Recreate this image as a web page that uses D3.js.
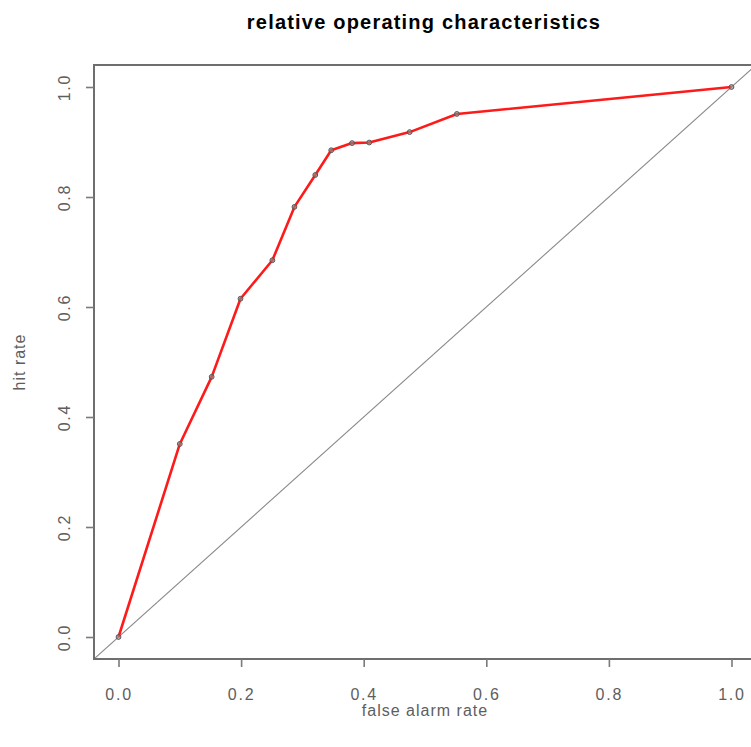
<!DOCTYPE html>
<html>
<head>
<meta charset="utf-8">
<script src="https://cdn.jsdelivr.net/npm/d3@7"></script>
<style>
  html, body { margin: 0; padding: 0; background: #fff; }
  svg { display: block; }
  text { font-family: "Liberation Sans", Arial, Helvetica, sans-serif; }
</style>
</head>
<body>
<svg id="chart" width="751" height="747"></svg>
<script>
// ROC curve: false alarm rate vs hit rate
const falseAlarmRate = [0.0, 0.100, 0.152, 0.199, 0.251, 0.287, 0.321, 0.347, 0.381, 0.409, 0.475, 0.552, 1.0];
const hitRate        = [0.0, 0.351, 0.473, 0.615, 0.685, 0.782, 0.840, 0.885, 0.898, 0.899, 0.918, 0.951, 1.0];
const xTicks = [0, 0.2, 0.4, 0.6, 0.8, 1.0];
const yTicks = [0, 0.2, 0.4, 0.6, 0.8, 1.0];

const svg = d3.select("#chart");
const plotLeft = 94, plotRight = 756, plotTop = 65, plotBottom = 659;

const x = d3.scaleLinear().domain([-0.04, 1.04]).range([plotLeft, plotRight]);
const y = d3.scaleLinear().domain([-0.04, 1.04]).range([plotBottom, plotTop]);

const fmt = d3.format(".1f");
const plot = svg.append("g");
const labelGrey = "#5e5e5e";

// clip for the plotting region
svg.append("clipPath").attr("id", "clip")
  .append("rect").attr("x", plotLeft).attr("y", plotTop)
  .attr("width", plotRight - plotLeft).attr("height", plotBottom - plotTop);

// reference diagonal (no-skill line)
plot.append("line")
  .attr("clip-path", "url(#clip)")
  .attr("x1", x(-0.04)).attr("y1", y(-0.04))
  .attr("x2", x(1.04)).attr("y2", y(1.04))
  .attr("stroke", "#8a8a8a").attr("stroke-width", 1.1);

// ROC line
const pts = falseAlarmRate.map((d, i) => [d, hitRate[i]]);
plot.append("path")
  .datum(pts)
  .attr("fill", "none")
  .attr("stroke", "#ff1a1a")
  .attr("stroke-width", 2.6)
  .attr("stroke-linejoin", "round")
  .attr("d", d3.line().x(d => x(d[0])).y(d => y(d[1])));

// points
plot.selectAll("circle.pt").data(pts).enter().append("circle")
  .attr("class", "pt")
  .attr("cx", d => x(d[0])).attr("cy", d => y(d[1]))
  .attr("r", 2.4)
  .attr("fill", "#8c8c8c")
  .attr("fill-opacity", 0.6)
  .attr("stroke", "#555")
  .attr("stroke-width", 1);

// box
svg.append("rect")
  .attr("x", plotLeft).attr("y", plotTop)
  .attr("width", plotRight - plotLeft).attr("height", plotBottom - plotTop)
  .attr("fill", "none").attr("stroke", "#6e6e6e").attr("stroke-width", 2);

// x axis
const xAxis = d3.axisBottom(x).tickValues(xTicks).tickFormat(fmt).tickSize(8).tickPadding(22);
const gx = svg.append("g").attr("transform", `translate(0,${plotBottom})`).call(xAxis);
gx.select(".domain").remove();
gx.selectAll(".tick line").attr("stroke", "#7a7a7a").attr("stroke-width", 1.6);
gx.selectAll(".tick text")
  .attr("font-size", 16).attr("letter-spacing", 1.8)
  .attr("fill", labelGrey).style("font-family", "'Liberation Sans', Arial, sans-serif");

// y axis
const yAxis = d3.axisLeft(y).tickValues(yTicks).tickFormat(fmt).tickSize(8).tickPadding(0);
const gy = svg.append("g").attr("transform", `translate(${plotLeft},0)`).call(yAxis);
gy.select(".domain").remove();
gy.selectAll(".tick line").attr("stroke", "#7a7a7a").attr("stroke-width", 1.6);
gy.selectAll(".tick text")
  .attr("font-size", 16).attr("letter-spacing", 1.8)
  .attr("fill", labelGrey).style("font-family", "'Liberation Sans', Arial, sans-serif")
  .attr("x", 0).attr("dy", 0)
  .attr("text-anchor", "middle")
  .attr("transform", "translate(-24,0) rotate(-90)")
  .attr("y", 0);

// title
svg.append("text")
  .attr("x", (plotLeft + plotRight) / 2 - 1).attr("y", 29)
  .attr("text-anchor", "middle")
  .attr("font-size", 20).attr("font-weight", "bold")
  .attr("letter-spacing", 1.2)
  .attr("fill", "#000")
  .text("relative operating characteristics");

// axis titles
svg.append("text")
  .attr("x", (plotLeft + plotRight) / 2).attr("y", 716)
  .attr("text-anchor", "middle")
  .attr("font-size", 16).attr("letter-spacing", 1)
  .attr("fill", labelGrey)
  .text("false alarm rate");

svg.append("text")
  .attr("transform", `translate(25,${(plotTop + plotBottom) / 2}) rotate(-90)`)
  .attr("text-anchor", "middle")
  .attr("font-size", 16).attr("letter-spacing", 1)
  .attr("fill", labelGrey)
  .text("hit rate");
</script>
</body>
</html>
